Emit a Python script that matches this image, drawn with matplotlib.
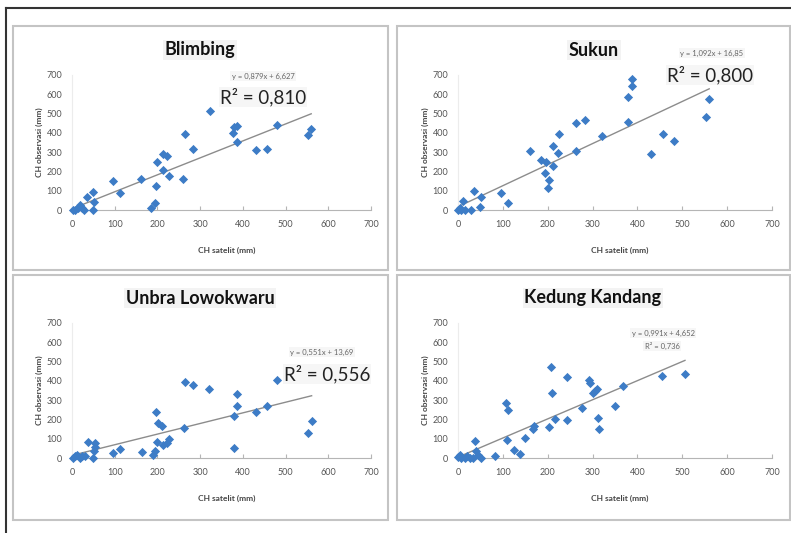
import matplotlib.pyplot as plt
from matplotlib.patches import Rectangle
from matplotlib.lines import Line2D
import numpy as np

plt.rcParams['font.family'] = ['Lato', 'DejaVu Sans']

# ---- data ----
blimbing_x = [2, 8, 13, 18, 23, 29, 35, 49, 51, 48, 97, 113, 162, 185, 195, 197, 200, 212, 213,
              222, 226, 261, 265, 283, 322, 378, 380, 387, 387, 431, 456, 481, 553, 560]
blimbing_y = [0, 0, 8, 26, 8, 0, 65, 92, 40, 0, 150, 90, 159, 9, 35, 126, 247, 207, 290,
              282, 176, 159, 392, 314, 515, 397, 432, 435, 354, 311, 314, 440, 389, 420]

sukun_x = [0, 4, 7, 11, 15, 28, 35, 48, 51, 95, 112, 160, 186, 195, 197, 201, 203, 212, 212,
           222, 226, 263, 264, 284, 322, 378, 380, 389, 389, 430, 458, 482, 553, 560]
sukun_y = [0, 9, 0, 47, 0, 0, 100, 14, 69, 90, 38, 308, 259, 194, 247, 112, 156, 333, 230,
           294, 392, 308, 453, 467, 384, 588, 458, 645, 677, 289, 392, 359, 484, 575]

unbra_x = [2, 8, 12, 18, 23, 31, 37, 48, 52, 53, 53, 97, 113, 163, 189, 194, 198, 197, 202,
           210, 214, 222, 228, 263, 265, 284, 321, 379, 379, 387, 387, 431, 456, 481, 553, 561]
unbra_y = [0, 9, 17, 0, 9, 9, 81, 0, 35, 78, 55, 26, 47, 33, 16, 36, 85, 240, 180,
           166, 67, 79, 97, 154, 396, 378, 356, 218, 50, 270, 332, 237, 271, 406, 130, 190]

kedung_x = [0, 4, 7, 15, 19, 26, 34, 37, 40, 45, 51, 82, 106, 112, 110, 125, 138, 149, 168,
            170, 203, 207, 209, 216, 242, 243, 276, 293, 294, 300, 305, 309, 313, 315, 350,
            368, 454, 506]
kedung_y = [3, 17, 0, 0, 9, 0, 0, 86, 35, 17, 0, 12, 285, 251, 95, 43, 22, 104, 150,
            164, 161, 472, 337, 202, 195, 420, 258, 404, 387, 339, 349, 356, 206, 150, 270,
            373, 425, 435]

titles = ['Blimbing', 'Sukun', 'Unbra Lowokwaru', 'Kedung Kandang']
slopes = [0.879, 1.092, 0.551, 0.991]
intercepts = [6.627, 16.85, 13.69, 4.652]
eq_labels = ['y = 0,879x + 6,627', 'y = 1,092x + 16,85', 'y = 0,551x + 13,69', 'y = 0,991x + 4,652']
r2_labels = ['R² = 0,810', 'R² = 0,800', 'R² = 0,556', 'R² = 0,736']
ticks = [0, 100, 200, 300, 400, 500, 600, 700]

xs = [blimbing_x, sukun_x, unbra_x, kedung_x]
ys = [blimbing_y, sukun_y, unbra_y, kedung_y]

W, H = 791, 533
fig = plt.figure(figsize=(W / 100, H / 100), dpi=100)


def fx(px):
    return px / W


def fy(py):
    return 1 - py / H


# outer frame (top and left only)
fig.add_artist(Line2D([fx(6), 1], [fy(8), fy(8)], color='#333333', lw=1.5))
fig.add_artist(Line2D([fx(6), fx(6)], [fy(8), 0], color='#333333', lw=1.5))

# panel boxes: left, top, right, bottom in pixels
boxes = [(13, 26, 388, 270), (397, 26, 790, 270), (13, 275, 388, 520), (397, 275, 790, 520)]
# plot area: left, right, top(700), bottom(0)
areas = [(72, 371, 75, 210), (458, 772, 75, 210), (72, 371, 323, 458), (458, 772, 323, 458)]
title_pos = [(200, 50), (594, 50), (200, 298), (593, 298)]
eq_pos = [(263, 76), (712, 53), (322, 352), (663, 333)]
r2_pos = [(263, 97), (710, 75), (327, 374), (662, 346)]

for i in range(4):
    l, t, r, b = boxes[i]
    fig.add_artist(Rectangle((fx(l), fy(b)), fx(r - l), (b - t) / H,
                             fill=False, edgecolor='#c4c4c4', lw=1.5))

    al, ar, at, ab = areas[i]
    ax = fig.add_axes([fx(al), fy(ab), fx(ar - al), (ab - at) / H])
    ax.scatter(xs[i], ys[i], marker='D', s=22, color='#3d7cc6', zorder=3, linewidths=0,
               clip_on=False)

    xl = np.array([min(xs[i]), max(xs[i])])
    ax.plot(xl, slopes[i] * xl + intercepts[i], color='#8c8c8c', lw=1, zorder=2)

    ax.set_xlim(0, 700)
    ax.set_ylim(0, 700)
    ax.set_xticks(ticks)
    ax.set_yticks(ticks)
    for s in ['top', 'right']:
        ax.spines[s].set_visible(False)
    ax.spines['bottom'].set_color('#b5b5b5')
    ax.spines['left'].set_color('#ececec')
    ax.tick_params(axis='x', direction='in', length=3, color='#b5b5b5',
                   labelsize=6.5, labelcolor='#555555', pad=7)
    ax.tick_params(axis='y', length=0, labelsize=6.5, labelcolor='#555555', pad=7)
    ax.set_facecolor('none')

    tx, ty = title_pos[i]
    fig.text(fx(tx), fy(ty), titles[i], ha='center', va='center', fontsize=13,
             fontweight='bold', color='#111111',
             bbox=dict(facecolor='#f3f3f3', edgecolor='none', pad=1))

    ex, ey = eq_pos[i]
    fig.text(fx(ex), fy(ey), eq_labels[i], ha='center', va='center', fontsize=5.5,
             color='#666666', bbox=dict(facecolor='#f6f6f6', edgecolor='none', pad=1))

    rx, ry = r2_pos[i]
    if i == 3:
        fig.text(fx(rx), fy(ry), r2_labels[i], ha='center', va='center', fontsize=5.5,
                 color='#666666', bbox=dict(facecolor='#f6f6f6', edgecolor='none', pad=1))
    else:
        fig.text(fx(rx), fy(ry), r2_labels[i], ha='center', va='center', fontsize=13.5,
                 color='#222222', bbox=dict(facecolor='#f6f6f6', edgecolor='none', pad=0.5))

    fig.text(fx((al + ar) / 2 + 5), fy(ab + 40), 'CH satelit (mm)', ha='center', va='center',
             fontsize=6, fontweight='bold', color='#444444')
    fig.text(fx(al - 33), fy((at + ab) / 2), 'CH observasi (mm)', ha='center', va='center',
             fontsize=6, fontweight='bold', color='#444444', rotation=90)

fig.savefig('out.png', dpi=100)
